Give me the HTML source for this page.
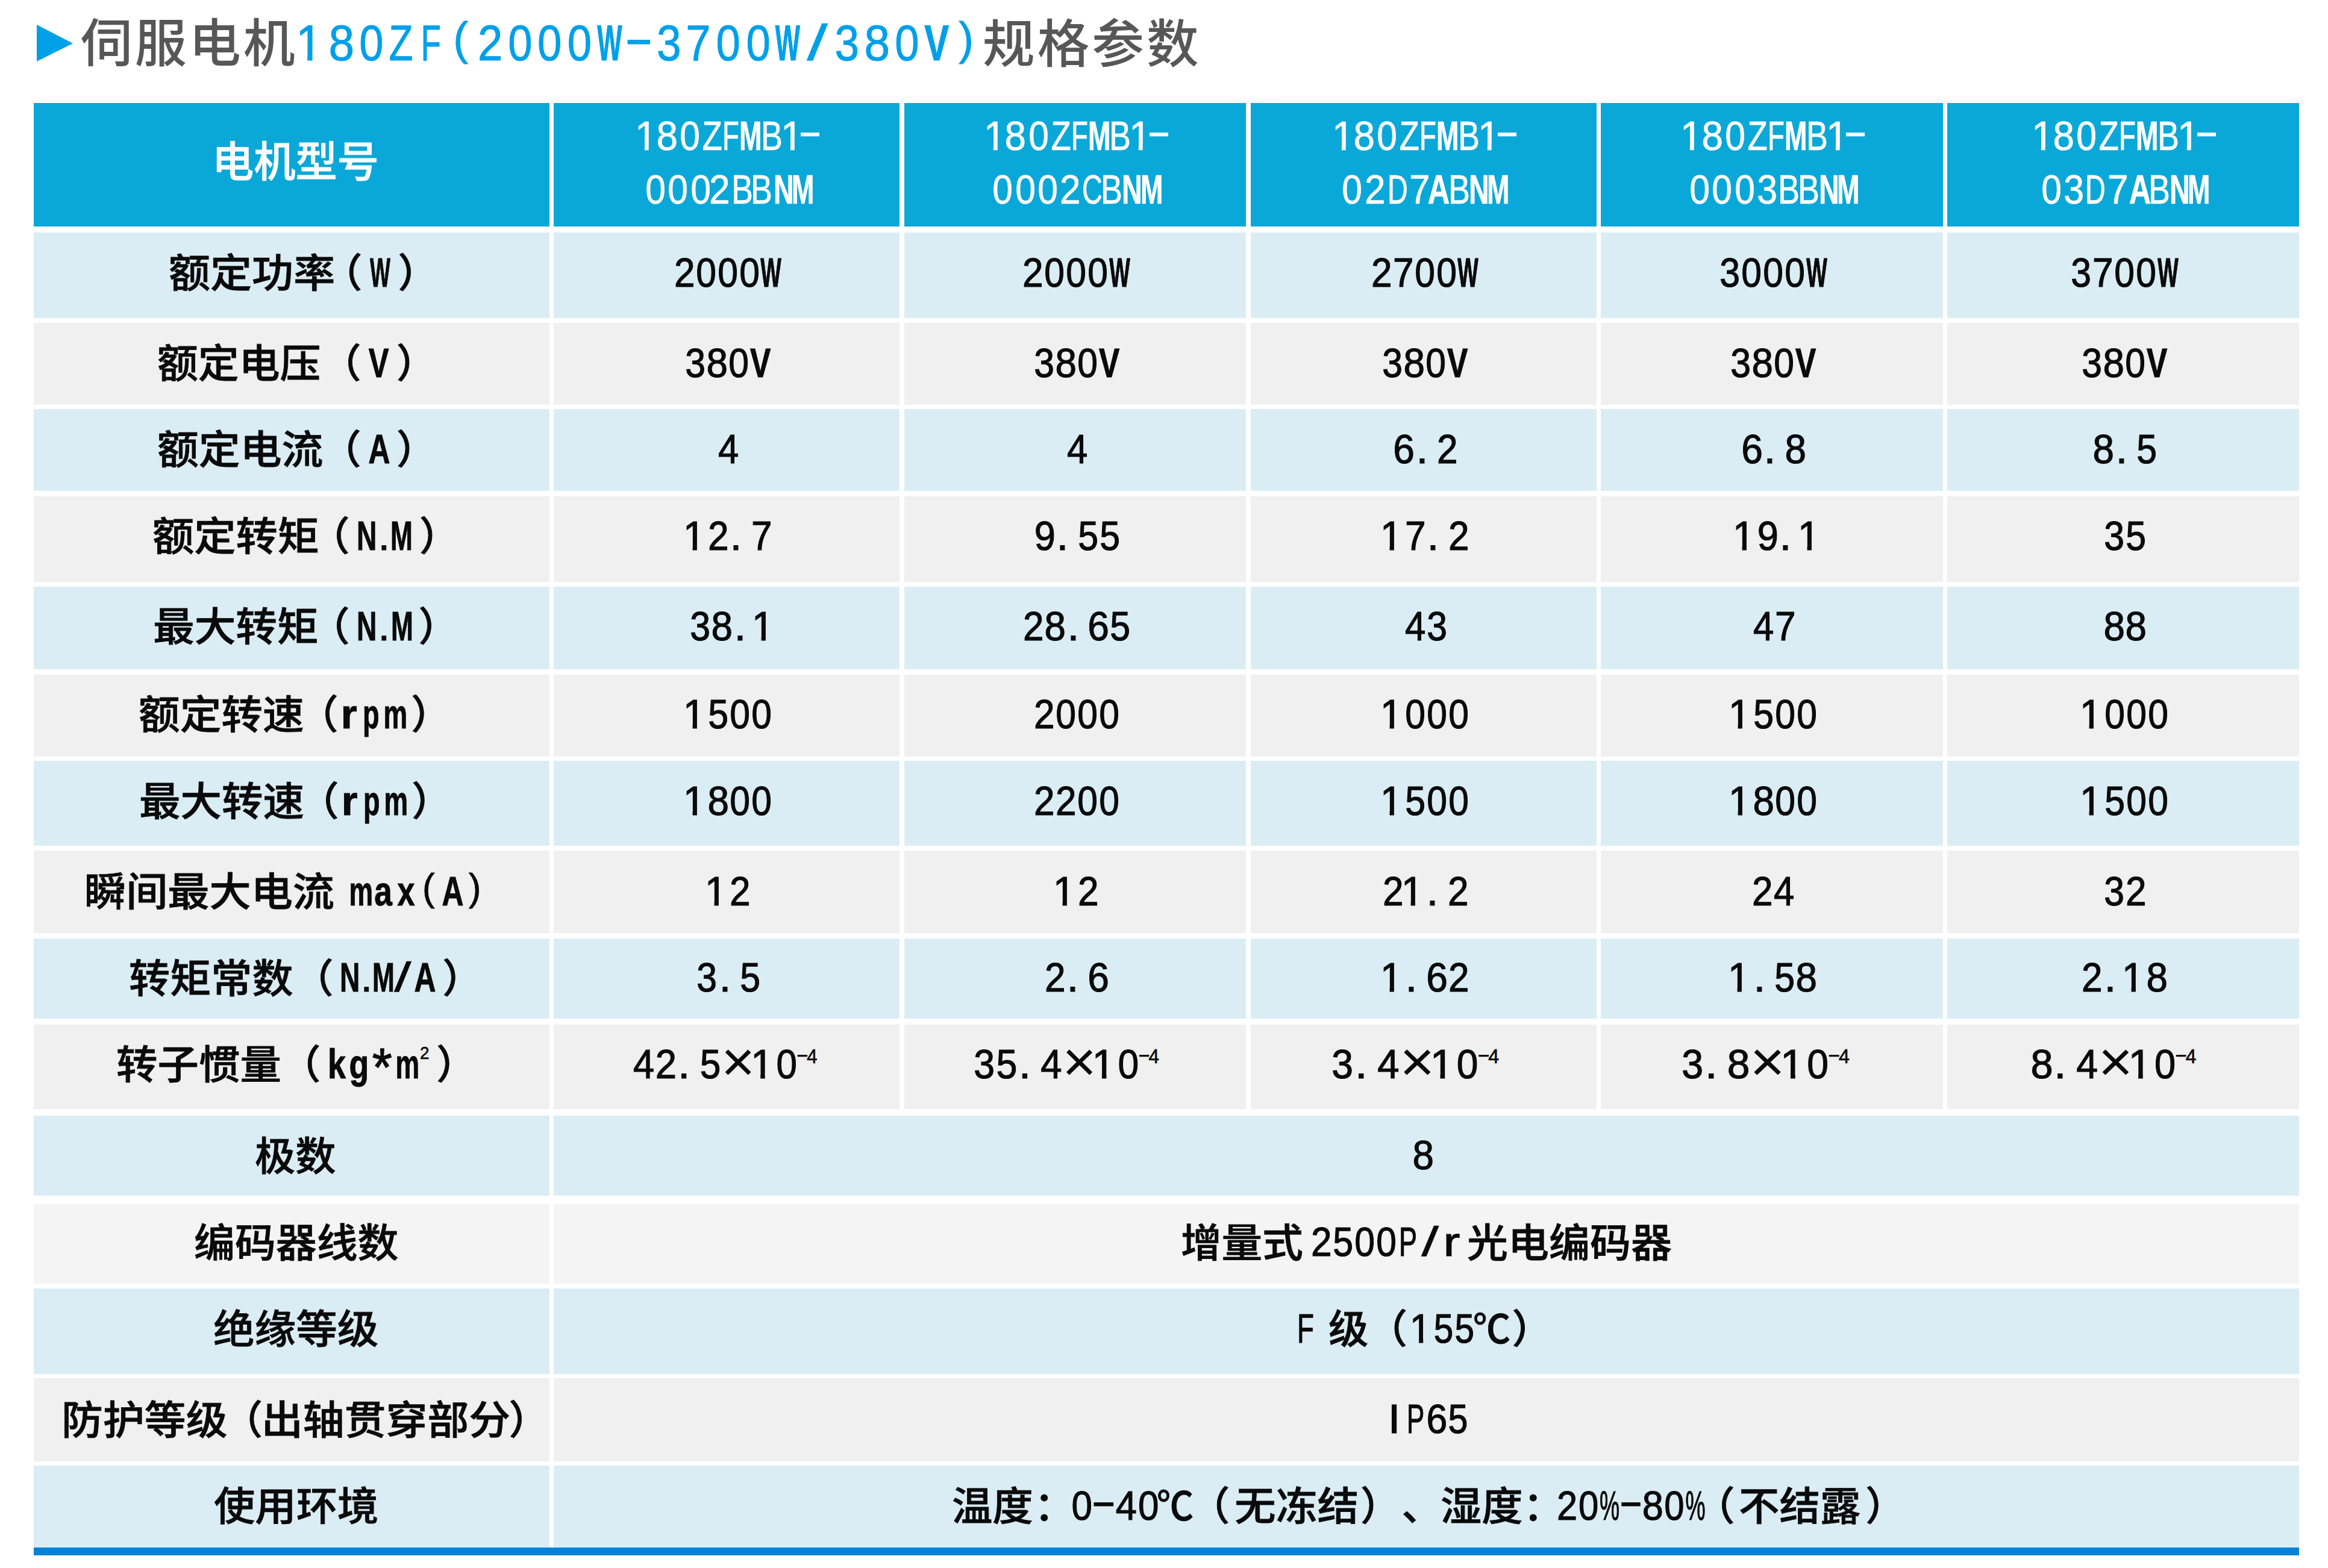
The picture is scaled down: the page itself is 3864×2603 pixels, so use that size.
<!DOCTYPE html>
<html lang="zh-CN"><head><meta charset="utf-8"><title>伺服电机180ZF规格参数</title>
<style>
html,body{margin:0;padding:0;background:#fff}
body{width:3864px;height:2603px;position:relative;overflow:hidden}
.r{position:absolute}

.t{position:absolute;white-space:nowrap;line-height:1;font-family:'Liberation Sans','Noto Sans CJK SC',sans-serif;font-weight:400;transform-origin:0 0}
.cj{font-weight:500;-webkit-text-stroke:.8px;position:relative;top:1.2px}
.tt{font-weight:500}
.g{display:inline-block;text-align:center}
.s{position:relative;top:-25px;font-size:34px}
.x{display:inline-block;width:52px;text-align:center;font-size:94px;line-height:0;position:relative;top:5px}
.dc{display:inline-block;font-weight:500;-webkit-text-stroke:.8px}

</style></head><body>
<div class="r" style="left:56px;top:171px;width:856px;height:205px;background:#0aa8d8"></div>
<div class="r" style="left:919px;top:171px;width:574px;height:205px;background:#0aa8d8"></div>
<div class="r" style="left:1501px;top:171px;width:567px;height:205px;background:#0aa8d8"></div>
<div class="r" style="left:2076px;top:171px;width:574px;height:205px;background:#0aa8d8"></div>
<div class="r" style="left:2657px;top:171px;width:568px;height:205px;background:#0aa8d8"></div>
<div class="r" style="left:3232px;top:171px;width:584px;height:205px;background:#0aa8d8"></div>
<div class="r" style="left:56px;top:386px;width:856px;height:142px;background:#dbedf4"></div>
<div class="r" style="left:919px;top:386px;width:574px;height:142px;background:#dbedf4"></div>
<div class="r" style="left:1501px;top:386px;width:567px;height:142px;background:#dbedf4"></div>
<div class="r" style="left:2076px;top:386px;width:574px;height:142px;background:#dbedf4"></div>
<div class="r" style="left:2657px;top:386px;width:568px;height:142px;background:#dbedf4"></div>
<div class="r" style="left:3232px;top:386px;width:584px;height:142px;background:#dbedf4"></div>
<div class="r" style="left:56px;top:536px;width:856px;height:136px;background:#f0f0f0"></div>
<div class="r" style="left:919px;top:536px;width:574px;height:136px;background:#f0f0f0"></div>
<div class="r" style="left:1501px;top:536px;width:567px;height:136px;background:#f0f0f0"></div>
<div class="r" style="left:2076px;top:536px;width:574px;height:136px;background:#f0f0f0"></div>
<div class="r" style="left:2657px;top:536px;width:568px;height:136px;background:#f0f0f0"></div>
<div class="r" style="left:3232px;top:536px;width:584px;height:136px;background:#f0f0f0"></div>
<div class="r" style="left:56px;top:679px;width:856px;height:136px;background:#dbedf4"></div>
<div class="r" style="left:919px;top:679px;width:574px;height:136px;background:#dbedf4"></div>
<div class="r" style="left:1501px;top:679px;width:567px;height:136px;background:#dbedf4"></div>
<div class="r" style="left:2076px;top:679px;width:574px;height:136px;background:#dbedf4"></div>
<div class="r" style="left:2657px;top:679px;width:568px;height:136px;background:#dbedf4"></div>
<div class="r" style="left:3232px;top:679px;width:584px;height:136px;background:#dbedf4"></div>
<div class="r" style="left:56px;top:824px;width:856px;height:142px;background:#f0f0f0"></div>
<div class="r" style="left:919px;top:824px;width:574px;height:142px;background:#f0f0f0"></div>
<div class="r" style="left:1501px;top:824px;width:567px;height:142px;background:#f0f0f0"></div>
<div class="r" style="left:2076px;top:824px;width:574px;height:142px;background:#f0f0f0"></div>
<div class="r" style="left:2657px;top:824px;width:568px;height:142px;background:#f0f0f0"></div>
<div class="r" style="left:3232px;top:824px;width:584px;height:142px;background:#f0f0f0"></div>
<div class="r" style="left:56px;top:974px;width:856px;height:137px;background:#dbedf4"></div>
<div class="r" style="left:919px;top:974px;width:574px;height:137px;background:#dbedf4"></div>
<div class="r" style="left:1501px;top:974px;width:567px;height:137px;background:#dbedf4"></div>
<div class="r" style="left:2076px;top:974px;width:574px;height:137px;background:#dbedf4"></div>
<div class="r" style="left:2657px;top:974px;width:568px;height:137px;background:#dbedf4"></div>
<div class="r" style="left:3232px;top:974px;width:584px;height:137px;background:#dbedf4"></div>
<div class="r" style="left:56px;top:1120px;width:856px;height:136px;background:#f0f0f0"></div>
<div class="r" style="left:919px;top:1120px;width:574px;height:136px;background:#f0f0f0"></div>
<div class="r" style="left:1501px;top:1120px;width:567px;height:136px;background:#f0f0f0"></div>
<div class="r" style="left:2076px;top:1120px;width:574px;height:136px;background:#f0f0f0"></div>
<div class="r" style="left:2657px;top:1120px;width:568px;height:136px;background:#f0f0f0"></div>
<div class="r" style="left:3232px;top:1120px;width:584px;height:136px;background:#f0f0f0"></div>
<div class="r" style="left:56px;top:1263px;width:856px;height:141px;background:#dbedf4"></div>
<div class="r" style="left:919px;top:1263px;width:574px;height:141px;background:#dbedf4"></div>
<div class="r" style="left:1501px;top:1263px;width:567px;height:141px;background:#dbedf4"></div>
<div class="r" style="left:2076px;top:1263px;width:574px;height:141px;background:#dbedf4"></div>
<div class="r" style="left:2657px;top:1263px;width:568px;height:141px;background:#dbedf4"></div>
<div class="r" style="left:3232px;top:1263px;width:584px;height:141px;background:#dbedf4"></div>
<div class="r" style="left:56px;top:1412px;width:856px;height:137px;background:#f0f0f0"></div>
<div class="r" style="left:919px;top:1412px;width:574px;height:137px;background:#f0f0f0"></div>
<div class="r" style="left:1501px;top:1412px;width:567px;height:137px;background:#f0f0f0"></div>
<div class="r" style="left:2076px;top:1412px;width:574px;height:137px;background:#f0f0f0"></div>
<div class="r" style="left:2657px;top:1412px;width:568px;height:137px;background:#f0f0f0"></div>
<div class="r" style="left:3232px;top:1412px;width:584px;height:137px;background:#f0f0f0"></div>
<div class="r" style="left:56px;top:1558px;width:856px;height:133px;background:#dbedf4"></div>
<div class="r" style="left:919px;top:1558px;width:574px;height:133px;background:#dbedf4"></div>
<div class="r" style="left:1501px;top:1558px;width:567px;height:133px;background:#dbedf4"></div>
<div class="r" style="left:2076px;top:1558px;width:574px;height:133px;background:#dbedf4"></div>
<div class="r" style="left:2657px;top:1558px;width:568px;height:133px;background:#dbedf4"></div>
<div class="r" style="left:3232px;top:1558px;width:584px;height:133px;background:#dbedf4"></div>
<div class="r" style="left:56px;top:1701px;width:856px;height:140px;background:#f0f0f0"></div>
<div class="r" style="left:919px;top:1701px;width:574px;height:140px;background:#f0f0f0"></div>
<div class="r" style="left:1501px;top:1701px;width:567px;height:140px;background:#f0f0f0"></div>
<div class="r" style="left:2076px;top:1701px;width:574px;height:140px;background:#f0f0f0"></div>
<div class="r" style="left:2657px;top:1701px;width:568px;height:140px;background:#f0f0f0"></div>
<div class="r" style="left:3232px;top:1701px;width:584px;height:140px;background:#f0f0f0"></div>
<div class="r" style="left:56px;top:1852px;width:856px;height:133px;background:#dbedf4"></div>
<div class="r" style="left:919px;top:1852px;width:2897px;height:133px;background:#dbedf4"></div>
<div class="r" style="left:56px;top:1999px;width:856px;height:132px;background:#f4f4f4"></div>
<div class="r" style="left:919px;top:1999px;width:2897px;height:132px;background:#f4f4f4"></div>
<div class="r" style="left:56px;top:2139px;width:856px;height:142px;background:#dbedf4"></div>
<div class="r" style="left:919px;top:2139px;width:2897px;height:142px;background:#dbedf4"></div>
<div class="r" style="left:56px;top:2288px;width:856px;height:138px;background:#f0f0f0"></div>
<div class="r" style="left:919px;top:2288px;width:2897px;height:138px;background:#f0f0f0"></div>
<div class="r" style="left:56px;top:2433px;width:856px;height:136px;background:#dbedf4"></div>
<div class="r" style="left:919px;top:2433px;width:2897px;height:136px;background:#dbedf4"></div>
<div class="r" style="left:56px;top:2569px;width:3760px;height:13px;background:#0282d6"></div>
<svg style="position:absolute;left:0;top:0" width="200" height="140"><polygon points="61,41 121,72 61,102" fill="#00a0e9"/></svg>
<div class="t" style="font-size:66px;color:#0a0a0a;left:279.9px;top:420.3px;transform:scaleX(1.0463);"><span class="cj">额定功率</span></div>
<div class="t" style="font-size:66px;color:#0a0a0a;left:260.5px;top:569.8px;transform:scaleX(1.0277);"><span class="cj">额定电压</span></div>
<div class="t" style="font-size:66px;color:#0a0a0a;left:260.5px;top:713.0px;transform:scaleX(1.0427);"><span class="cj">额定电流</span></div>
<div class="t" style="font-size:66px;color:#0a0a0a;left:252.9px;top:856.7px;transform:scaleX(1.0490);"><span class="cj">额定转矩</span></div>
<div class="t" style="font-size:66px;color:#0a0a0a;left:254.4px;top:1007.0px;transform:scaleX(1.0403);"><span class="cj">最大转矩</span></div>
<div class="t" style="font-size:66px;color:#0a0a0a;left:230.4px;top:1153.0px;transform:scaleX(1.0404);"><span class="cj">额定转速</span></div>
<div class="t" style="font-size:66px;color:#0a0a0a;left:231.2px;top:1296.5px;transform:scaleX(1.0375);"><span class="cj">最大转速</span></div>
<div class="t" style="font-size:66px;color:#0a0a0a;left:140.0px;top:1446.7px;transform:scaleX(1.0479);"><span class="cj">瞬间最大电流</span></div>
<div class="t" style="font-size:66px;color:#0a0a0a;left:213.9px;top:1590.4px;transform:scaleX(1.0326);"><span class="cj">转矩常数</span></div>
<div class="t" style="font-size:66px;color:#0a0a0a;left:192.9px;top:1733.5px;transform:scaleX(1.0373);"><span class="cj">转子惯量</span></div>
<div class="t" style="font-size:66px;color:#0a0a0a;left:422.6px;top:1885.8px;transform:scaleX(1.0185);"><span class="cj">极数</span></div>
<div class="t" style="font-size:66px;color:#0a0a0a;left:322.3px;top:2029.4px;transform:scaleX(1.0287);"><span class="cj">编码器线数</span></div>
<div class="t" style="font-size:66px;color:#0a0a0a;left:353.5px;top:2172.9px;transform:scaleX(1.0396);"><span class="cj">绝缘等级</span></div>
<div class="t" style="font-size:66px;color:#0a0a0a;left:102.3px;top:2323.4px;transform:scaleX(1.0440);"><span class="cj">防护等级</span></div>
<div class="t" style="font-size:66px;color:#0a0a0a;left:433.9px;top:2323.4px;transform:scaleX(1.0433);"><span class="cj">出轴贯穿部分</span></div>
<div class="t" style="font-size:66px;color:#0a0a0a;left:354.6px;top:2466.8px;transform:scaleX(1.0356);"><span class="cj">使用环境</span></div>
<div class="t" style="font-size:66px;color:#0a0a0a;left:535.2px;top:420.3px;"><span class="cj">（</span></div>
<div class="t" style="font-size:68px;color:#0a0a0a;left:611.5px;top:418.3px;"><span class="g" style="width:64.18px;margin:0 -12.09px;font-weight:700;transform:scaleX(0.529);-webkit-text-stroke:1.0px">W</span></div>
<div class="t" style="font-size:66px;color:#0a0a0a;left:660.5px;top:420.3px;"><span class="cj">）</span></div>
<div class="t" style="font-size:66px;color:#0a0a0a;left:533.4px;top:569.8px;"><span class="cj">（</span></div>
<div class="t" style="font-size:68px;color:#0a0a0a;left:608.7px;top:567.8px;"><span class="g" style="width:45.36px;margin:0 -2.68px;font-weight:700;transform:scaleX(0.743);-webkit-text-stroke:1.0px">V</span></div>
<div class="t" style="font-size:66px;color:#0a0a0a;left:658.0px;top:569.8px;"><span class="cj">）</span></div>
<div class="t" style="font-size:66px;color:#0a0a0a;left:533.4px;top:713.0px;"><span class="cj">（</span></div>
<div class="t" style="font-size:68px;color:#0a0a0a;left:609.5px;top:711.0px;"><span class="g" style="width:49.11px;margin:0 -4.55px;font-weight:700;transform:scaleX(0.732);-webkit-text-stroke:1.0px">A</span></div>
<div class="t" style="font-size:66px;color:#0a0a0a;left:658.0px;top:713.0px;"><span class="cj">）</span></div>
<div class="t" style="font-size:66px;color:#0a0a0a;left:514.5px;top:856.7px;"><span class="cj">（</span></div>
<div class="t" style="font-size:68px;color:#0a0a0a;left:588.4px;top:854.7px;"><span class="g" style="width:49.11px;margin:0 -4.55px;font-weight:700;transform:scaleX(0.678);-webkit-text-stroke:1.0px">N</span></div>
<div class="t" style="font-size:68px;color:#0a0a0a;left:623.8px;top:854.7px;"><span class="g" style="width:18.89px;margin:0 10.55px;transform:translateX(-6.1px) scaleX(1.035);-webkit-text-stroke:1.0px">.</span></div>
<div class="t" style="font-size:68px;color:#0a0a0a;left:646.4px;top:854.7px;"><span class="g" style="width:56.64px;margin:0 -8.32px;font-weight:700;transform:scaleX(0.651);-webkit-text-stroke:1.0px">M</span></div>
<div class="t" style="font-size:66px;color:#0a0a0a;left:696.0px;top:856.7px;"><span class="cj">）</span></div>
<div class="t" style="font-size:66px;color:#0a0a0a;left:514.5px;top:1007.0px;"><span class="cj">（</span></div>
<div class="t" style="font-size:68px;color:#0a0a0a;left:588.5px;top:1005.0px;"><span class="g" style="width:49.11px;margin:0 -4.55px;font-weight:700;transform:scaleX(0.678);-webkit-text-stroke:1.0px">N</span></div>
<div class="t" style="font-size:68px;color:#0a0a0a;left:623.2px;top:1005.0px;"><span class="g" style="width:18.89px;margin:0 10.55px;transform:translateX(-6.1px) scaleX(1.035);-webkit-text-stroke:1.0px">.</span></div>
<div class="t" style="font-size:68px;color:#0a0a0a;left:646.9px;top:1005.0px;"><span class="g" style="width:56.64px;margin:0 -8.32px;font-weight:700;transform:scaleX(0.651);-webkit-text-stroke:1.0px">M</span></div>
<div class="t" style="font-size:66px;color:#0a0a0a;left:694.5px;top:1007.0px;"><span class="cj">）</span></div>
<div class="t" style="font-size:66px;color:#0a0a0a;left:495.5px;top:1153.0px;"><span class="cj">（</span></div>
<div class="t" style="font-size:68px;color:#0a0a0a;left:559.0px;top:1151.0px;"><span class="g" style="width:26.46px;margin:0 6.77px;font-weight:700;transform:scaleX(1.012);-webkit-text-stroke:1.0px">r</span></div>
<div class="t" style="font-size:68px;color:#0a0a0a;left:595.3px;top:1151.0px;"><span class="g" style="width:41.54px;margin:0 -0.77px;font-weight:700;transform:scaleX(0.662);-webkit-text-stroke:1.0px">p</span></div>
<div class="t" style="font-size:68px;color:#0a0a0a;left:636.3px;top:1151.0px;"><span class="g" style="width:60.46px;margin:0 -10.23px;font-weight:700;transform:scaleX(0.654);-webkit-text-stroke:1.0px">m</span></div>
<div class="t" style="font-size:66px;color:#0a0a0a;left:682.3px;top:1153.0px;"><span class="cj">）</span></div>
<div class="t" style="font-size:66px;color:#0a0a0a;left:496.5px;top:1296.5px;"><span class="cj">（</span></div>
<div class="t" style="font-size:68px;color:#0a0a0a;left:560.0px;top:1294.5px;"><span class="g" style="width:26.46px;margin:0 6.77px;font-weight:700;transform:scaleX(1.012);-webkit-text-stroke:1.0px">r</span></div>
<div class="t" style="font-size:68px;color:#0a0a0a;left:596.3px;top:1294.5px;"><span class="g" style="width:41.54px;margin:0 -0.77px;font-weight:700;transform:scaleX(0.662);-webkit-text-stroke:1.0px">p</span></div>
<div class="t" style="font-size:68px;color:#0a0a0a;left:637.3px;top:1294.5px;"><span class="g" style="width:60.46px;margin:0 -10.23px;font-weight:700;transform:scaleX(0.654);-webkit-text-stroke:1.0px">m</span></div>
<div class="t" style="font-size:66px;color:#0a0a0a;left:683.3px;top:1296.5px;"><span class="cj">）</span></div>
<div class="t" style="font-size:68px;color:#0a0a0a;left:578.8px;top:1444.7px;"><span class="g" style="width:60.46px;margin:0 -10.23px;font-weight:700;transform:scaleX(0.654);-webkit-text-stroke:1.0px">m</span></div>
<div class="t" style="font-size:68px;color:#0a0a0a;left:616.0px;top:1444.7px;"><span class="g" style="width:37.82px;margin:0 1.09px;font-weight:700;transform:scaleX(0.781);-webkit-text-stroke:1.0px">a</span></div>
<div class="t" style="font-size:68px;color:#0a0a0a;left:654.2px;top:1444.7px;"><span class="g" style="width:37.82px;margin:0 1.09px;font-weight:700;transform:scaleX(0.767);-webkit-text-stroke:1.0px">x</span></div>
<div class="t" style="font-size:68px;color:#0a0a0a;left:691.5px;top:1444.7px;"><span class="g" style="width:22.64px;margin:0 8.68px;transform:translateY(-6.5px) scale(0.902,0.925);-webkit-text-stroke:1.0px">(</span></div>
<div class="t" style="font-size:68px;color:#0a0a0a;left:731.5px;top:1444.7px;"><span class="g" style="width:49.11px;margin:0 -4.55px;font-weight:700;transform:scaleX(0.732);-webkit-text-stroke:1.0px">A</span></div>
<div class="t" style="font-size:68px;color:#0a0a0a;left:768.8px;top:1444.7px;"><span class="g" style="width:22.64px;margin:0 8.68px;transform:translateY(-6.5px) scale(0.902,0.925);-webkit-text-stroke:1.0px">)</span></div>
<div class="t" style="font-size:66px;color:#0a0a0a;left:487.5px;top:1590.4px;"><span class="cj">（</span></div>
<div class="t" style="font-size:68px;color:#0a0a0a;left:561.0px;top:1588.4px;"><span class="g" style="width:49.11px;margin:0 -4.55px;font-weight:700;transform:scaleX(0.678);-webkit-text-stroke:1.0px">N</span></div>
<div class="t" style="font-size:68px;color:#0a0a0a;left:594.6px;top:1588.4px;"><span class="g" style="width:18.89px;margin:0 10.55px;transform:translateX(-6.1px) scaleX(1.035);-webkit-text-stroke:1.0px">.</span></div>
<div class="t" style="font-size:68px;color:#0a0a0a;left:616.0px;top:1588.4px;"><span class="g" style="width:56.64px;margin:0 -8.32px;font-weight:700;transform:scaleX(0.651);-webkit-text-stroke:1.0px">M</span></div>
<div class="t" style="font-size:68px;color:#0a0a0a;left:648.3px;top:1588.4px;"><span class="g" style="width:18.89px;margin:0 10.55px;transform:scaleX(1.528);-webkit-text-stroke:0.3px">/</span></div>
<div class="t" style="font-size:68px;color:#0a0a0a;left:685.4px;top:1588.4px;"><span class="g" style="width:49.11px;margin:0 -4.55px;font-weight:700;transform:scaleX(0.732);-webkit-text-stroke:1.0px">A</span></div>
<div class="t" style="font-size:66px;color:#0a0a0a;left:734.3px;top:1590.4px;"><span class="cj">）</span></div>
<div class="t" style="font-size:66px;color:#0a0a0a;left:466.2px;top:1733.5px;"><span class="cj">（</span></div>
<div class="t" style="font-size:68px;color:#0a0a0a;left:538.5px;top:1731.5px;"><span class="g" style="width:37.82px;margin:0 1.09px;font-weight:700;transform:scaleX(0.791);-webkit-text-stroke:1.0px">k</span></div>
<div class="t" style="font-size:68px;color:#0a0a0a;left:575.7px;top:1731.5px;"><span class="g" style="width:41.54px;margin:0 -0.77px;font-weight:700;transform:scaleX(0.787);-webkit-text-stroke:1.0px">g</span></div>
<div class="t" style="font-size:68px;color:#0a0a0a;left:614.5px;top:1731.5px;"><span class="g" style="width:26.46px;margin:0 6.77px;transform:translateY(4.8px) scale(1.25,1.3);-webkit-text-stroke:1.0px">*</span></div>
<div class="t" style="font-size:68px;color:#0a0a0a;left:656.3px;top:1731.5px;"><span class="g" style="width:60.46px;margin:0 -10.23px;font-weight:700;transform:scaleX(0.654);-webkit-text-stroke:1.0px">m</span></div>
<div class="t" style="font-size:66px;color:#0a0a0a;left:724.3px;top:1733.5px;"><span class="cj">）</span></div>
<div class="t" style="font-size:66px;color:#0a0a0a;left:370.1px;top:2323.4px;"><span class="cj">（</span></div>
<div class="t" style="font-size:66px;color:#0a0a0a;left:844.5px;top:2323.4px;"><span class="cj">）</span></div>
<div class="t" style="font-size:30px;color:#0a0a0a;left:693.5px;top:1733.2px;transform:scaleX(1.0308);"><span class="g" style="width:16.68px;margin:0 1.66px;transform:scaleX(0.900);-webkit-text-stroke:0.6px">2</span></div>
<div class="t" style="font-size:69px;color:#0a0a0a;left:1118.0px;top:418.3px;"><span class="g" style="width:38.37px;margin:0 -1.19px;transform:scaleX(0.900);-webkit-text-stroke:1.2px">2</span><span class="g" style="width:38.37px;margin:0 -1.19px;transform:scaleX(0.877);-webkit-text-stroke:1.2px">0</span><span class="g" style="width:38.37px;margin:0 -1.19px;transform:scaleX(0.877);-webkit-text-stroke:1.2px">0</span><span class="g" style="width:38.37px;margin:0 -1.19px;transform:scaleX(0.877);-webkit-text-stroke:1.2px">0</span><span class="g" style="width:65.13px;margin:0 -14.56px;font-weight:700;transform:scaleX(0.529);-webkit-text-stroke:1.2px">W</span></div>
<div class="t" style="font-size:69px;color:#0a0a0a;left:1696.5px;top:418.3px;"><span class="g" style="width:38.37px;margin:0 -1.19px;transform:scaleX(0.900);-webkit-text-stroke:1.2px">2</span><span class="g" style="width:38.37px;margin:0 -1.19px;transform:scaleX(0.877);-webkit-text-stroke:1.2px">0</span><span class="g" style="width:38.37px;margin:0 -1.19px;transform:scaleX(0.877);-webkit-text-stroke:1.2px">0</span><span class="g" style="width:38.37px;margin:0 -1.19px;transform:scaleX(0.877);-webkit-text-stroke:1.2px">0</span><span class="g" style="width:65.13px;margin:0 -14.56px;font-weight:700;transform:scaleX(0.529);-webkit-text-stroke:1.2px">W</span></div>
<div class="t" style="font-size:69px;color:#0a0a0a;left:2275.0px;top:418.3px;"><span class="g" style="width:38.37px;margin:0 -1.19px;transform:scaleX(0.900);-webkit-text-stroke:1.2px">2</span><span class="g" style="width:38.37px;margin:0 -1.19px;transform:scaleX(0.900);-webkit-text-stroke:1.2px">7</span><span class="g" style="width:38.37px;margin:0 -1.19px;transform:scaleX(0.877);-webkit-text-stroke:1.2px">0</span><span class="g" style="width:38.37px;margin:0 -1.19px;transform:scaleX(0.877);-webkit-text-stroke:1.2px">0</span><span class="g" style="width:65.13px;margin:0 -14.56px;font-weight:700;transform:scaleX(0.529);-webkit-text-stroke:1.2px">W</span></div>
<div class="t" style="font-size:69px;color:#0a0a0a;left:2853.5px;top:418.3px;"><span class="g" style="width:38.37px;margin:0 -1.19px;transform:scaleX(0.881);-webkit-text-stroke:1.2px">3</span><span class="g" style="width:38.37px;margin:0 -1.19px;transform:scaleX(0.877);-webkit-text-stroke:1.2px">0</span><span class="g" style="width:38.37px;margin:0 -1.19px;transform:scaleX(0.877);-webkit-text-stroke:1.2px">0</span><span class="g" style="width:38.37px;margin:0 -1.19px;transform:scaleX(0.877);-webkit-text-stroke:1.2px">0</span><span class="g" style="width:65.13px;margin:0 -14.56px;font-weight:700;transform:scaleX(0.529);-webkit-text-stroke:1.2px">W</span></div>
<div class="t" style="font-size:69px;color:#0a0a0a;left:3436.5px;top:418.3px;"><span class="g" style="width:38.37px;margin:0 -1.19px;transform:scaleX(0.881);-webkit-text-stroke:1.2px">3</span><span class="g" style="width:38.37px;margin:0 -1.19px;transform:scaleX(0.900);-webkit-text-stroke:1.2px">7</span><span class="g" style="width:38.37px;margin:0 -1.19px;transform:scaleX(0.877);-webkit-text-stroke:1.2px">0</span><span class="g" style="width:38.37px;margin:0 -1.19px;transform:scaleX(0.877);-webkit-text-stroke:1.2px">0</span><span class="g" style="width:65.13px;margin:0 -14.56px;font-weight:700;transform:scaleX(0.529);-webkit-text-stroke:1.2px">W</span></div>
<div class="t" style="font-size:69px;color:#0a0a0a;left:1136.5px;top:567.8px;"><span class="g" style="width:38.37px;margin:0 -1.19px;transform:scaleX(0.881);-webkit-text-stroke:1.2px">3</span><span class="g" style="width:38.37px;margin:0 -1.19px;transform:scaleX(0.925);-webkit-text-stroke:1.2px">8</span><span class="g" style="width:38.37px;margin:0 -1.19px;transform:scaleX(0.877);-webkit-text-stroke:1.2px">0</span><span class="g" style="width:46.02px;margin:0 -5.01px;font-weight:700;transform:scaleX(0.743);-webkit-text-stroke:1.2px">V</span></div>
<div class="t" style="font-size:69px;color:#0a0a0a;left:1715.0px;top:567.8px;"><span class="g" style="width:38.37px;margin:0 -1.19px;transform:scaleX(0.881);-webkit-text-stroke:1.2px">3</span><span class="g" style="width:38.37px;margin:0 -1.19px;transform:scaleX(0.925);-webkit-text-stroke:1.2px">8</span><span class="g" style="width:38.37px;margin:0 -1.19px;transform:scaleX(0.877);-webkit-text-stroke:1.2px">0</span><span class="g" style="width:46.02px;margin:0 -5.01px;font-weight:700;transform:scaleX(0.743);-webkit-text-stroke:1.2px">V</span></div>
<div class="t" style="font-size:69px;color:#0a0a0a;left:2293.5px;top:567.8px;"><span class="g" style="width:38.37px;margin:0 -1.19px;transform:scaleX(0.881);-webkit-text-stroke:1.2px">3</span><span class="g" style="width:38.37px;margin:0 -1.19px;transform:scaleX(0.925);-webkit-text-stroke:1.2px">8</span><span class="g" style="width:38.37px;margin:0 -1.19px;transform:scaleX(0.877);-webkit-text-stroke:1.2px">0</span><span class="g" style="width:46.02px;margin:0 -5.01px;font-weight:700;transform:scaleX(0.743);-webkit-text-stroke:1.2px">V</span></div>
<div class="t" style="font-size:69px;color:#0a0a0a;left:2871.5px;top:567.8px;"><span class="g" style="width:38.37px;margin:0 -1.19px;transform:scaleX(0.881);-webkit-text-stroke:1.2px">3</span><span class="g" style="width:38.37px;margin:0 -1.19px;transform:scaleX(0.925);-webkit-text-stroke:1.2px">8</span><span class="g" style="width:38.37px;margin:0 -1.19px;transform:scaleX(0.877);-webkit-text-stroke:1.2px">0</span><span class="g" style="width:46.02px;margin:0 -5.01px;font-weight:700;transform:scaleX(0.743);-webkit-text-stroke:1.2px">V</span></div>
<div class="t" style="font-size:69px;color:#0a0a0a;left:3454.5px;top:567.8px;"><span class="g" style="width:38.37px;margin:0 -1.19px;transform:scaleX(0.881);-webkit-text-stroke:1.2px">3</span><span class="g" style="width:38.37px;margin:0 -1.19px;transform:scaleX(0.925);-webkit-text-stroke:1.2px">8</span><span class="g" style="width:38.37px;margin:0 -1.19px;transform:scaleX(0.877);-webkit-text-stroke:1.2px">0</span><span class="g" style="width:46.02px;margin:0 -5.01px;font-weight:700;transform:scaleX(0.743);-webkit-text-stroke:1.2px">V</span></div>
<div class="t" style="font-size:69px;color:#0a0a0a;left:1191.5px;top:711.0px;"><span class="g" style="width:38.37px;margin:0 -1.19px;transform:scaleX(0.893);-webkit-text-stroke:1.2px">4</span></div>
<div class="t" style="font-size:69px;color:#0a0a0a;left:1770.0px;top:711.0px;"><span class="g" style="width:38.37px;margin:0 -1.19px;transform:scaleX(0.893);-webkit-text-stroke:1.2px">4</span></div>
<div class="t" style="font-size:69px;color:#0a0a0a;left:2312.5px;top:711.0px;"><span class="g" style="width:38.37px;margin:0 -1.19px;transform:scaleX(0.930);-webkit-text-stroke:1.2px">6</span><span class="g" style="width:19.17px;margin:0 8.41px;transform:translateX(-6.2px) scaleX(1.035);-webkit-text-stroke:1.2px">.</span><span class="g" style="width:38.37px;margin:0 -1.19px;transform:scaleX(0.900);-webkit-text-stroke:1.2px">2</span></div>
<div class="t" style="font-size:69px;color:#0a0a0a;left:2890.0px;top:711.0px;"><span class="g" style="width:38.37px;margin:0 -1.19px;transform:scaleX(0.930);-webkit-text-stroke:1.2px">6</span><span class="g" style="width:19.17px;margin:0 8.41px;transform:translateX(-6.2px) scaleX(1.035);-webkit-text-stroke:1.2px">.</span><span class="g" style="width:38.37px;margin:0 -1.19px;transform:scaleX(0.925);-webkit-text-stroke:1.2px">8</span></div>
<div class="t" style="font-size:69px;color:#0a0a0a;left:3473.5px;top:711.0px;"><span class="g" style="width:38.37px;margin:0 -1.19px;transform:scaleX(0.925);-webkit-text-stroke:1.2px">8</span><span class="g" style="width:19.17px;margin:0 8.41px;transform:translateX(-6.2px) scaleX(1.035);-webkit-text-stroke:1.2px">.</span><span class="g" style="width:38.37px;margin:0 -1.19px;transform:scaleX(0.881);-webkit-text-stroke:1.2px">5</span></div>
<div class="t" style="font-size:69px;color:#0a0a0a;left:1138.0px;top:854.7px;"><span class="g" style="width:38.37px;margin:0 -1.19px;transform:translateX(-4.1px) scaleX(0.961);-webkit-text-stroke:1.2px;clip-path:polygon(-30px -60px,68.4px -60px,68.4px 51.1px,24.2px 51.1px,24.2px 129px,16.6px 129px,16.6px 51.1px,-30px 51.1px)">1</span><span class="g" style="width:38.37px;margin:0 -1.19px;transform:scaleX(0.900);-webkit-text-stroke:1.2px">2</span><span class="g" style="width:19.17px;margin:0 8.41px;transform:translateX(-6.2px) scaleX(1.035);-webkit-text-stroke:1.2px">.</span><span class="g" style="width:38.37px;margin:0 -1.19px;transform:scaleX(0.900);-webkit-text-stroke:1.2px">7</span></div>
<div class="t" style="font-size:69px;color:#0a0a0a;left:1716.0px;top:854.7px;"><span class="g" style="width:38.37px;margin:0 -1.19px;transform:scaleX(0.915);-webkit-text-stroke:1.2px">9</span><span class="g" style="width:19.17px;margin:0 8.41px;transform:translateX(-6.2px) scaleX(1.035);-webkit-text-stroke:1.2px">.</span><span class="g" style="width:38.37px;margin:0 -1.19px;transform:scaleX(0.881);-webkit-text-stroke:1.2px">5</span><span class="g" style="width:38.37px;margin:0 -1.19px;transform:scaleX(0.881);-webkit-text-stroke:1.2px">5</span></div>
<div class="t" style="font-size:69px;color:#0a0a0a;left:2295.0px;top:854.7px;"><span class="g" style="width:38.37px;margin:0 -1.19px;transform:translateX(-4.1px) scaleX(0.961);-webkit-text-stroke:1.2px;clip-path:polygon(-30px -60px,68.4px -60px,68.4px 51.1px,24.2px 51.1px,24.2px 129px,16.6px 129px,16.6px 51.1px,-30px 51.1px)">1</span><span class="g" style="width:38.37px;margin:0 -1.19px;transform:scaleX(0.900);-webkit-text-stroke:1.2px">7</span><span class="g" style="width:19.17px;margin:0 8.41px;transform:translateX(-6.2px) scaleX(1.035);-webkit-text-stroke:1.2px">.</span><span class="g" style="width:38.37px;margin:0 -1.19px;transform:scaleX(0.900);-webkit-text-stroke:1.2px">2</span></div>
<div class="t" style="font-size:69px;color:#0a0a0a;left:2880.0px;top:854.7px;"><span class="g" style="width:38.37px;margin:0 -1.19px;transform:translateX(-4.1px) scaleX(0.961);-webkit-text-stroke:1.2px;clip-path:polygon(-30px -60px,68.4px -60px,68.4px 51.1px,24.2px 51.1px,24.2px 129px,16.6px 129px,16.6px 51.1px,-30px 51.1px)">1</span><span class="g" style="width:38.37px;margin:0 -1.19px;transform:scaleX(0.915);-webkit-text-stroke:1.2px">9</span><span class="g" style="width:19.17px;margin:0 8.41px;transform:translateX(-6.2px) scaleX(1.035);-webkit-text-stroke:1.2px">.</span><span class="g" style="width:38.37px;margin:0 -1.19px;transform:translateX(-4.1px) scaleX(0.961);-webkit-text-stroke:1.2px;clip-path:polygon(-30px -60px,68.4px -60px,68.4px 51.1px,24.2px 51.1px,24.2px 129px,16.6px 129px,16.6px 51.1px,-30px 51.1px)">1</span></div>
<div class="t" style="font-size:69px;color:#0a0a0a;left:3491.5px;top:854.7px;"><span class="g" style="width:38.37px;margin:0 -1.19px;transform:scaleX(0.881);-webkit-text-stroke:1.2px">3</span><span class="g" style="width:38.37px;margin:0 -1.19px;transform:scaleX(0.881);-webkit-text-stroke:1.2px">5</span></div>
<div class="t" style="font-size:69px;color:#0a0a0a;left:1144.5px;top:1005.0px;"><span class="g" style="width:38.37px;margin:0 -1.19px;transform:scaleX(0.881);-webkit-text-stroke:1.2px">3</span><span class="g" style="width:38.37px;margin:0 -1.19px;transform:scaleX(0.925);-webkit-text-stroke:1.2px">8</span><span class="g" style="width:19.17px;margin:0 8.41px;transform:translateX(-6.2px) scaleX(1.035);-webkit-text-stroke:1.2px">.</span><span class="g" style="width:38.37px;margin:0 -1.19px;transform:translateX(-4.1px) scaleX(0.961);-webkit-text-stroke:1.2px;clip-path:polygon(-30px -60px,68.4px -60px,68.4px 51.1px,24.2px 51.1px,24.2px 129px,16.6px 129px,16.6px 51.1px,-30px 51.1px)">1</span></div>
<div class="t" style="font-size:69px;color:#0a0a0a;left:1697.5px;top:1005.0px;"><span class="g" style="width:38.37px;margin:0 -1.19px;transform:scaleX(0.900);-webkit-text-stroke:1.2px">2</span><span class="g" style="width:38.37px;margin:0 -1.19px;transform:scaleX(0.925);-webkit-text-stroke:1.2px">8</span><span class="g" style="width:19.17px;margin:0 8.41px;transform:translateX(-6.2px) scaleX(1.035);-webkit-text-stroke:1.2px">.</span><span class="g" style="width:38.37px;margin:0 -1.19px;transform:scaleX(0.930);-webkit-text-stroke:1.2px">6</span><span class="g" style="width:38.37px;margin:0 -1.19px;transform:scaleX(0.881);-webkit-text-stroke:1.2px">5</span></div>
<div class="t" style="font-size:69px;color:#0a0a0a;left:2331.0px;top:1005.0px;"><span class="g" style="width:38.37px;margin:0 -1.19px;transform:scaleX(0.893);-webkit-text-stroke:1.2px">4</span><span class="g" style="width:38.37px;margin:0 -1.19px;transform:scaleX(0.881);-webkit-text-stroke:1.2px">3</span></div>
<div class="t" style="font-size:69px;color:#0a0a0a;left:2909.0px;top:1005.0px;"><span class="g" style="width:38.37px;margin:0 -1.19px;transform:scaleX(0.893);-webkit-text-stroke:1.2px">4</span><span class="g" style="width:38.37px;margin:0 -1.19px;transform:scaleX(0.900);-webkit-text-stroke:1.2px">7</span></div>
<div class="t" style="font-size:69px;color:#0a0a0a;left:3491.0px;top:1005.0px;"><span class="g" style="width:38.37px;margin:0 -1.19px;transform:scaleX(0.925);-webkit-text-stroke:1.2px">8</span><span class="g" style="width:38.37px;margin:0 -1.19px;transform:scaleX(0.925);-webkit-text-stroke:1.2px">8</span></div>
<div class="t" style="font-size:69px;color:#0a0a0a;left:1138.0px;top:1151.0px;"><span class="g" style="width:38.37px;margin:0 -1.19px;transform:translateX(-4.1px) scaleX(0.961);-webkit-text-stroke:1.2px;clip-path:polygon(-30px -60px,68.4px -60px,68.4px 51.1px,24.2px 51.1px,24.2px 129px,16.6px 129px,16.6px 51.1px,-30px 51.1px)">1</span><span class="g" style="width:38.37px;margin:0 -1.19px;transform:scaleX(0.881);-webkit-text-stroke:1.2px">5</span><span class="g" style="width:38.37px;margin:0 -1.19px;transform:scaleX(0.877);-webkit-text-stroke:1.2px">0</span><span class="g" style="width:38.37px;margin:0 -1.19px;transform:scaleX(0.877);-webkit-text-stroke:1.2px">0</span></div>
<div class="t" style="font-size:69px;color:#0a0a0a;left:1715.5px;top:1151.0px;"><span class="g" style="width:38.37px;margin:0 -1.19px;transform:scaleX(0.900);-webkit-text-stroke:1.2px">2</span><span class="g" style="width:38.37px;margin:0 -1.19px;transform:scaleX(0.877);-webkit-text-stroke:1.2px">0</span><span class="g" style="width:38.37px;margin:0 -1.19px;transform:scaleX(0.877);-webkit-text-stroke:1.2px">0</span><span class="g" style="width:38.37px;margin:0 -1.19px;transform:scaleX(0.877);-webkit-text-stroke:1.2px">0</span></div>
<div class="t" style="font-size:69px;color:#0a0a0a;left:2295.0px;top:1151.0px;"><span class="g" style="width:38.37px;margin:0 -1.19px;transform:translateX(-4.1px) scaleX(0.961);-webkit-text-stroke:1.2px;clip-path:polygon(-30px -60px,68.4px -60px,68.4px 51.1px,24.2px 51.1px,24.2px 129px,16.6px 129px,16.6px 51.1px,-30px 51.1px)">1</span><span class="g" style="width:38.37px;margin:0 -1.19px;transform:scaleX(0.877);-webkit-text-stroke:1.2px">0</span><span class="g" style="width:38.37px;margin:0 -1.19px;transform:scaleX(0.877);-webkit-text-stroke:1.2px">0</span><span class="g" style="width:38.37px;margin:0 -1.19px;transform:scaleX(0.877);-webkit-text-stroke:1.2px">0</span></div>
<div class="t" style="font-size:69px;color:#0a0a0a;left:2873.0px;top:1151.0px;"><span class="g" style="width:38.37px;margin:0 -1.19px;transform:translateX(-4.1px) scaleX(0.961);-webkit-text-stroke:1.2px;clip-path:polygon(-30px -60px,68.4px -60px,68.4px 51.1px,24.2px 51.1px,24.2px 129px,16.6px 129px,16.6px 51.1px,-30px 51.1px)">1</span><span class="g" style="width:38.37px;margin:0 -1.19px;transform:scaleX(0.881);-webkit-text-stroke:1.2px">5</span><span class="g" style="width:38.37px;margin:0 -1.19px;transform:scaleX(0.877);-webkit-text-stroke:1.2px">0</span><span class="g" style="width:38.37px;margin:0 -1.19px;transform:scaleX(0.877);-webkit-text-stroke:1.2px">0</span></div>
<div class="t" style="font-size:69px;color:#0a0a0a;left:3456.0px;top:1151.0px;"><span class="g" style="width:38.37px;margin:0 -1.19px;transform:translateX(-4.1px) scaleX(0.961);-webkit-text-stroke:1.2px;clip-path:polygon(-30px -60px,68.4px -60px,68.4px 51.1px,24.2px 51.1px,24.2px 129px,16.6px 129px,16.6px 51.1px,-30px 51.1px)">1</span><span class="g" style="width:38.37px;margin:0 -1.19px;transform:scaleX(0.877);-webkit-text-stroke:1.2px">0</span><span class="g" style="width:38.37px;margin:0 -1.19px;transform:scaleX(0.877);-webkit-text-stroke:1.2px">0</span><span class="g" style="width:38.37px;margin:0 -1.19px;transform:scaleX(0.877);-webkit-text-stroke:1.2px">0</span></div>
<div class="t" style="font-size:69px;color:#0a0a0a;left:1138.0px;top:1294.5px;"><span class="g" style="width:38.37px;margin:0 -1.19px;transform:translateX(-4.1px) scaleX(0.961);-webkit-text-stroke:1.2px;clip-path:polygon(-30px -60px,68.4px -60px,68.4px 51.1px,24.2px 51.1px,24.2px 129px,16.6px 129px,16.6px 51.1px,-30px 51.1px)">1</span><span class="g" style="width:38.37px;margin:0 -1.19px;transform:scaleX(0.925);-webkit-text-stroke:1.2px">8</span><span class="g" style="width:38.37px;margin:0 -1.19px;transform:scaleX(0.877);-webkit-text-stroke:1.2px">0</span><span class="g" style="width:38.37px;margin:0 -1.19px;transform:scaleX(0.877);-webkit-text-stroke:1.2px">0</span></div>
<div class="t" style="font-size:69px;color:#0a0a0a;left:1715.5px;top:1294.5px;"><span class="g" style="width:38.37px;margin:0 -1.19px;transform:scaleX(0.900);-webkit-text-stroke:1.2px">2</span><span class="g" style="width:38.37px;margin:0 -1.19px;transform:scaleX(0.900);-webkit-text-stroke:1.2px">2</span><span class="g" style="width:38.37px;margin:0 -1.19px;transform:scaleX(0.877);-webkit-text-stroke:1.2px">0</span><span class="g" style="width:38.37px;margin:0 -1.19px;transform:scaleX(0.877);-webkit-text-stroke:1.2px">0</span></div>
<div class="t" style="font-size:69px;color:#0a0a0a;left:2295.0px;top:1294.5px;"><span class="g" style="width:38.37px;margin:0 -1.19px;transform:translateX(-4.1px) scaleX(0.961);-webkit-text-stroke:1.2px;clip-path:polygon(-30px -60px,68.4px -60px,68.4px 51.1px,24.2px 51.1px,24.2px 129px,16.6px 129px,16.6px 51.1px,-30px 51.1px)">1</span><span class="g" style="width:38.37px;margin:0 -1.19px;transform:scaleX(0.881);-webkit-text-stroke:1.2px">5</span><span class="g" style="width:38.37px;margin:0 -1.19px;transform:scaleX(0.877);-webkit-text-stroke:1.2px">0</span><span class="g" style="width:38.37px;margin:0 -1.19px;transform:scaleX(0.877);-webkit-text-stroke:1.2px">0</span></div>
<div class="t" style="font-size:69px;color:#0a0a0a;left:2873.0px;top:1294.5px;"><span class="g" style="width:38.37px;margin:0 -1.19px;transform:translateX(-4.1px) scaleX(0.961);-webkit-text-stroke:1.2px;clip-path:polygon(-30px -60px,68.4px -60px,68.4px 51.1px,24.2px 51.1px,24.2px 129px,16.6px 129px,16.6px 51.1px,-30px 51.1px)">1</span><span class="g" style="width:38.37px;margin:0 -1.19px;transform:scaleX(0.925);-webkit-text-stroke:1.2px">8</span><span class="g" style="width:38.37px;margin:0 -1.19px;transform:scaleX(0.877);-webkit-text-stroke:1.2px">0</span><span class="g" style="width:38.37px;margin:0 -1.19px;transform:scaleX(0.877);-webkit-text-stroke:1.2px">0</span></div>
<div class="t" style="font-size:69px;color:#0a0a0a;left:3456.0px;top:1294.5px;"><span class="g" style="width:38.37px;margin:0 -1.19px;transform:translateX(-4.1px) scaleX(0.961);-webkit-text-stroke:1.2px;clip-path:polygon(-30px -60px,68.4px -60px,68.4px 51.1px,24.2px 51.1px,24.2px 129px,16.6px 129px,16.6px 51.1px,-30px 51.1px)">1</span><span class="g" style="width:38.37px;margin:0 -1.19px;transform:scaleX(0.881);-webkit-text-stroke:1.2px">5</span><span class="g" style="width:38.37px;margin:0 -1.19px;transform:scaleX(0.877);-webkit-text-stroke:1.2px">0</span><span class="g" style="width:38.37px;margin:0 -1.19px;transform:scaleX(0.877);-webkit-text-stroke:1.2px">0</span></div>
<div class="t" style="font-size:69px;color:#0a0a0a;left:1174.0px;top:1444.7px;"><span class="g" style="width:38.37px;margin:0 -1.19px;transform:translateX(-4.1px) scaleX(0.961);-webkit-text-stroke:1.2px;clip-path:polygon(-30px -60px,68.4px -60px,68.4px 51.1px,24.2px 51.1px,24.2px 129px,16.6px 129px,16.6px 51.1px,-30px 51.1px)">1</span><span class="g" style="width:38.37px;margin:0 -1.19px;transform:scaleX(0.900);-webkit-text-stroke:1.2px">2</span></div>
<div class="t" style="font-size:69px;color:#0a0a0a;left:1752.5px;top:1444.7px;"><span class="g" style="width:38.37px;margin:0 -1.19px;transform:translateX(-4.1px) scaleX(0.961);-webkit-text-stroke:1.2px;clip-path:polygon(-30px -60px,68.4px -60px,68.4px 51.1px,24.2px 51.1px,24.2px 129px,16.6px 129px,16.6px 51.1px,-30px 51.1px)">1</span><span class="g" style="width:38.37px;margin:0 -1.19px;transform:scaleX(0.900);-webkit-text-stroke:1.2px">2</span></div>
<div class="t" style="font-size:69px;color:#0a0a0a;left:2294.0px;top:1444.7px;"><span class="g" style="width:38.37px;margin:0 -1.19px;transform:scaleX(0.900);-webkit-text-stroke:1.2px">2</span><span class="g" style="width:38.37px;margin:0 -1.19px;transform:translateX(-4.1px) scaleX(0.961);-webkit-text-stroke:1.2px;clip-path:polygon(-30px -60px,68.4px -60px,68.4px 51.1px,24.2px 51.1px,24.2px 129px,16.6px 129px,16.6px 51.1px,-30px 51.1px)">1</span><span class="g" style="width:19.17px;margin:0 8.41px;transform:translateX(-6.2px) scaleX(1.035);-webkit-text-stroke:1.2px">.</span><span class="g" style="width:38.37px;margin:0 -1.19px;transform:scaleX(0.900);-webkit-text-stroke:1.2px">2</span></div>
<div class="t" style="font-size:69px;color:#0a0a0a;left:2907.5px;top:1444.7px;"><span class="g" style="width:38.37px;margin:0 -1.19px;transform:scaleX(0.900);-webkit-text-stroke:1.2px">2</span><span class="g" style="width:38.37px;margin:0 -1.19px;transform:scaleX(0.893);-webkit-text-stroke:1.2px">4</span></div>
<div class="t" style="font-size:69px;color:#0a0a0a;left:3491.5px;top:1444.7px;"><span class="g" style="width:38.37px;margin:0 -1.19px;transform:scaleX(0.881);-webkit-text-stroke:1.2px">3</span><span class="g" style="width:38.37px;margin:0 -1.19px;transform:scaleX(0.900);-webkit-text-stroke:1.2px">2</span></div>
<div class="t" style="font-size:69px;color:#0a0a0a;left:1155.5px;top:1588.4px;"><span class="g" style="width:38.37px;margin:0 -1.19px;transform:scaleX(0.881);-webkit-text-stroke:1.2px">3</span><span class="g" style="width:19.17px;margin:0 8.41px;transform:translateX(-6.2px) scaleX(1.035);-webkit-text-stroke:1.2px">.</span><span class="g" style="width:38.37px;margin:0 -1.19px;transform:scaleX(0.881);-webkit-text-stroke:1.2px">5</span></div>
<div class="t" style="font-size:69px;color:#0a0a0a;left:1733.0px;top:1588.4px;"><span class="g" style="width:38.37px;margin:0 -1.19px;transform:scaleX(0.900);-webkit-text-stroke:1.2px">2</span><span class="g" style="width:19.17px;margin:0 8.41px;transform:translateX(-6.2px) scaleX(1.035);-webkit-text-stroke:1.2px">.</span><span class="g" style="width:38.37px;margin:0 -1.19px;transform:scaleX(0.930);-webkit-text-stroke:1.2px">6</span></div>
<div class="t" style="font-size:69px;color:#0a0a0a;left:2295.0px;top:1588.4px;"><span class="g" style="width:38.37px;margin:0 -1.19px;transform:translateX(-4.1px) scaleX(0.961);-webkit-text-stroke:1.2px;clip-path:polygon(-30px -60px,68.4px -60px,68.4px 51.1px,24.2px 51.1px,24.2px 129px,16.6px 129px,16.6px 51.1px,-30px 51.1px)">1</span><span class="g" style="width:19.17px;margin:0 8.41px;transform:translateX(-6.2px) scaleX(1.035);-webkit-text-stroke:1.2px">.</span><span class="g" style="width:38.37px;margin:0 -1.19px;transform:scaleX(0.930);-webkit-text-stroke:1.2px">6</span><span class="g" style="width:38.37px;margin:0 -1.19px;transform:scaleX(0.900);-webkit-text-stroke:1.2px">2</span></div>
<div class="t" style="font-size:69px;color:#0a0a0a;left:2872.5px;top:1588.4px;"><span class="g" style="width:38.37px;margin:0 -1.19px;transform:translateX(-4.1px) scaleX(0.961);-webkit-text-stroke:1.2px;clip-path:polygon(-30px -60px,68.4px -60px,68.4px 51.1px,24.2px 51.1px,24.2px 129px,16.6px 129px,16.6px 51.1px,-30px 51.1px)">1</span><span class="g" style="width:19.17px;margin:0 8.41px;transform:translateX(-6.2px) scaleX(1.035);-webkit-text-stroke:1.2px">.</span><span class="g" style="width:38.37px;margin:0 -1.19px;transform:scaleX(0.881);-webkit-text-stroke:1.2px">5</span><span class="g" style="width:38.37px;margin:0 -1.19px;transform:scaleX(0.925);-webkit-text-stroke:1.2px">8</span></div>
<div class="t" style="font-size:69px;color:#0a0a0a;left:3454.5px;top:1588.4px;"><span class="g" style="width:38.37px;margin:0 -1.19px;transform:scaleX(0.900);-webkit-text-stroke:1.2px">2</span><span class="g" style="width:19.17px;margin:0 8.41px;transform:translateX(-6.2px) scaleX(1.035);-webkit-text-stroke:1.2px">.</span><span class="g" style="width:38.37px;margin:0 -1.19px;transform:translateX(-4.1px) scaleX(0.961);-webkit-text-stroke:1.2px;clip-path:polygon(-30px -60px,68.4px -60px,68.4px 51.1px,24.2px 51.1px,24.2px 129px,16.6px 129px,16.6px 51.1px,-30px 51.1px)">1</span><span class="g" style="width:38.37px;margin:0 -1.19px;transform:scaleX(0.925);-webkit-text-stroke:1.2px">8</span></div>
<div class="t" style="font-size:69px;color:#0a0a0a;left:1050.0px;top:1731.5px;transform:scaleX(1.0222);"><span class="g" style="width:38.37px;margin:0 -1.19px;transform:scaleX(0.893);-webkit-text-stroke:1.2px">4</span><span class="g" style="width:38.37px;margin:0 -1.19px;transform:scaleX(0.900);-webkit-text-stroke:1.2px">2</span><span class="g" style="width:19.17px;margin:0 8.41px;transform:translateX(-6.2px) scaleX(1.035);-webkit-text-stroke:1.2px">.</span><span class="g" style="width:38.37px;margin:0 -1.19px;transform:scaleX(0.881);-webkit-text-stroke:1.2px">5</span><span class="x">×</span><span class="g" style="width:38.37px;margin:0 -1.19px;transform:translateX(-4.1px) scaleX(0.961);-webkit-text-stroke:1.2px;clip-path:polygon(-30px -60px,68.4px -60px,68.4px 51.1px,24.2px 51.1px,24.2px 129px,16.6px 129px,16.6px 51.1px,-30px 51.1px)">1</span><span class="g" style="width:38.37px;margin:0 -1.19px;transform:scaleX(0.877);-webkit-text-stroke:1.2px">0</span><span class="s"><span class="g" style="width:11.32px;margin:0 2.34px;transform:translateY(-3.4px) scaleX(1.766);-webkit-text-stroke:0.7px">-</span><span class="g" style="width:18.91px;margin:0 -1.45px;transform:scaleX(0.893);-webkit-text-stroke:0.7px">4</span></span></div>
<div class="t" style="font-size:69px;color:#0a0a0a;left:1614.9px;top:1731.5px;transform:scaleX(1.0304);"><span class="g" style="width:38.37px;margin:0 -1.19px;transform:scaleX(0.881);-webkit-text-stroke:1.2px">3</span><span class="g" style="width:38.37px;margin:0 -1.19px;transform:scaleX(0.881);-webkit-text-stroke:1.2px">5</span><span class="g" style="width:19.17px;margin:0 8.41px;transform:translateX(-6.2px) scaleX(1.035);-webkit-text-stroke:1.2px">.</span><span class="g" style="width:38.37px;margin:0 -1.19px;transform:scaleX(0.893);-webkit-text-stroke:1.2px">4</span><span class="x">×</span><span class="g" style="width:38.37px;margin:0 -1.19px;transform:translateX(-4.1px) scaleX(0.961);-webkit-text-stroke:1.2px;clip-path:polygon(-30px -60px,68.4px -60px,68.4px 51.1px,24.2px 51.1px,24.2px 129px,16.6px 129px,16.6px 51.1px,-30px 51.1px)">1</span><span class="g" style="width:38.37px;margin:0 -1.19px;transform:scaleX(0.877);-webkit-text-stroke:1.2px">0</span><span class="s"><span class="g" style="width:11.32px;margin:0 2.34px;transform:translateY(-3.4px) scaleX(1.766);-webkit-text-stroke:0.7px">-</span><span class="g" style="width:18.91px;margin:0 -1.45px;transform:scaleX(0.893);-webkit-text-stroke:0.7px">4</span></span></div>
<div class="t" style="font-size:69px;color:#0a0a0a;left:2208.8px;top:1731.5px;transform:scaleX(1.0577);"><span class="g" style="width:38.37px;margin:0 -1.19px;transform:scaleX(0.881);-webkit-text-stroke:1.2px">3</span><span class="g" style="width:19.17px;margin:0 8.41px;transform:translateX(-6.2px) scaleX(1.035);-webkit-text-stroke:1.2px">.</span><span class="g" style="width:38.37px;margin:0 -1.19px;transform:scaleX(0.893);-webkit-text-stroke:1.2px">4</span><span class="x">×</span><span class="g" style="width:38.37px;margin:0 -1.19px;transform:translateX(-4.1px) scaleX(0.961);-webkit-text-stroke:1.2px;clip-path:polygon(-30px -60px,68.4px -60px,68.4px 51.1px,24.2px 51.1px,24.2px 129px,16.6px 129px,16.6px 51.1px,-30px 51.1px)">1</span><span class="g" style="width:38.37px;margin:0 -1.19px;transform:scaleX(0.877);-webkit-text-stroke:1.2px">0</span><span class="s"><span class="g" style="width:11.32px;margin:0 2.34px;transform:translateY(-3.4px) scaleX(1.766);-webkit-text-stroke:0.7px">-</span><span class="g" style="width:18.91px;margin:0 -1.45px;transform:scaleX(0.893);-webkit-text-stroke:0.7px">4</span></span></div>
<div class="t" style="font-size:69px;color:#0a0a0a;left:2789.8px;top:1731.5px;transform:scaleX(1.0604);"><span class="g" style="width:38.37px;margin:0 -1.19px;transform:scaleX(0.881);-webkit-text-stroke:1.2px">3</span><span class="g" style="width:19.17px;margin:0 8.41px;transform:translateX(-6.2px) scaleX(1.035);-webkit-text-stroke:1.2px">.</span><span class="g" style="width:38.37px;margin:0 -1.19px;transform:scaleX(0.925);-webkit-text-stroke:1.2px">8</span><span class="x">×</span><span class="g" style="width:38.37px;margin:0 -1.19px;transform:translateX(-4.1px) scaleX(0.961);-webkit-text-stroke:1.2px;clip-path:polygon(-30px -60px,68.4px -60px,68.4px 51.1px,24.2px 51.1px,24.2px 129px,16.6px 129px,16.6px 51.1px,-30px 51.1px)">1</span><span class="g" style="width:38.37px;margin:0 -1.19px;transform:scaleX(0.877);-webkit-text-stroke:1.2px">0</span><span class="s"><span class="g" style="width:11.32px;margin:0 2.34px;transform:translateY(-3.4px) scaleX(1.766);-webkit-text-stroke:0.7px">-</span><span class="g" style="width:18.91px;margin:0 -1.45px;transform:scaleX(0.893);-webkit-text-stroke:0.7px">4</span></span></div>
<div class="t" style="font-size:69px;color:#0a0a0a;left:3369.8px;top:1731.5px;transform:scaleX(1.0438);"><span class="g" style="width:38.37px;margin:0 -1.19px;transform:scaleX(0.925);-webkit-text-stroke:1.2px">8</span><span class="g" style="width:19.17px;margin:0 8.41px;transform:translateX(-6.2px) scaleX(1.035);-webkit-text-stroke:1.2px">.</span><span class="g" style="width:38.37px;margin:0 -1.19px;transform:scaleX(0.893);-webkit-text-stroke:1.2px">4</span><span class="x">×</span><span class="g" style="width:38.37px;margin:0 -1.19px;transform:translateX(-4.1px) scaleX(0.961);-webkit-text-stroke:1.2px;clip-path:polygon(-30px -60px,68.4px -60px,68.4px 51.1px,24.2px 51.1px,24.2px 129px,16.6px 129px,16.6px 51.1px,-30px 51.1px)">1</span><span class="g" style="width:38.37px;margin:0 -1.19px;transform:scaleX(0.877);-webkit-text-stroke:1.2px">0</span><span class="s"><span class="g" style="width:11.32px;margin:0 2.34px;transform:translateY(-3.4px) scaleX(1.766);-webkit-text-stroke:0.7px">-</span><span class="g" style="width:18.91px;margin:0 -1.45px;transform:scaleX(0.893);-webkit-text-stroke:0.7px">4</span></span></div>
<div class="t" style="font-size:69px;color:#0a0a0a;left:2344.4px;top:1882.5px;"><span class="g" style="width:38.37px;margin:0 -1.19px;transform:scaleX(0.925);-webkit-text-stroke:1.2px">8</span></div>
<div class="t" style="font-size:66px;color:#0a0a0a;left:1960.3px;top:2029.4px;transform:scaleX(1.0241);"><span class="cj">增量式</span></div>
<div class="t" style="font-size:69px;color:#0a0a0a;left:2175.2px;top:2027.4px;"><span class="g" style="width:38.37px;margin:0 -1.19px;transform:scaleX(0.900);-webkit-text-stroke:1.2px">2</span><span class="g" style="width:38.37px;margin:0 -1.19px;transform:scaleX(0.881);-webkit-text-stroke:1.2px">5</span><span class="g" style="width:38.37px;margin:0 -1.19px;transform:scaleX(0.877);-webkit-text-stroke:1.2px">0</span><span class="g" style="width:38.37px;margin:0 -1.19px;transform:scaleX(0.877);-webkit-text-stroke:1.2px">0</span><span class="g" style="width:46.02px;margin:0 -5.01px;transform:scaleX(0.651);-webkit-text-stroke:1.2px">P</span><span class="g" style="width:19.17px;margin:0 8.41px;transform:scaleX(1.528);-webkit-text-stroke:0.36px">/</span><span class="g" style="width:22.98px;margin:0 6.51px;transform:scaleX(1.214);-webkit-text-stroke:1.2px">r</span></div>
<div class="t" style="font-size:66px;color:#0a0a0a;left:2434.9px;top:2029.4px;transform:scaleX(1.0306);"><span class="cj">光电编码器</span></div>
<div class="t" style="font-size:69px;color:#0a0a0a;left:2149.0px;top:2170.9px;"><span class="g" style="width:42.15px;margin:0 -3.07px;transform:scaleX(0.662);-webkit-text-stroke:1.2px">F</span></div>
<div class="t" style="font-size:66px;color:#0a0a0a;left:2205.3px;top:2172.9px;transform:scaleX(1.0063);"><span class="cj">级</span></div>
<div class="t" style="font-size:66px;color:#0a0a0a;left:2269.9px;top:2172.9px;"><span class="cj">（</span></div>
<div class="t" style="font-size:69px;color:#0a0a0a;left:2344.1px;top:2170.9px;transform:scaleX(0.9612);"><span class="g" style="width:38.37px;margin:0 -1.19px;transform:translateX(-4.1px) scaleX(0.961);-webkit-text-stroke:1.2px;clip-path:polygon(-30px -60px,68.4px -60px,68.4px 51.1px,24.2px 51.1px,24.2px 129px,16.6px 129px,16.6px 51.1px,-30px 51.1px)">1</span><span class="g" style="width:38.37px;margin:0 -1.19px;transform:scaleX(0.881);-webkit-text-stroke:1.2px">5</span><span class="g" style="width:38.37px;margin:0 -1.19px;transform:scaleX(0.881);-webkit-text-stroke:1.2px">5</span></div>
<div class="t" style="font-size:66px;color:#0a0a0a;left:2444.6px;top:2172.9px;transform:scaleX(0.9419);"><span class="cj">℃</span></div>
<div class="t" style="font-size:66px;color:#0a0a0a;left:2509.5px;top:2172.9px;"><span class="cj">）</span></div>
<div class="t" style="font-size:69px;color:#0a0a0a;left:2296.7px;top:2321.4px;transform:scaleX(0.9734);"><span class="g" style="width:19.17px;margin:0 8.41px;transform:scaleX(1.104);-webkit-text-stroke:1.2px">I</span><span class="g" style="width:46.02px;margin:0 -5.01px;transform:scaleX(0.651);-webkit-text-stroke:1.2px">P</span><span class="g" style="width:38.37px;margin:0 -1.19px;transform:scaleX(0.930);-webkit-text-stroke:1.2px">6</span><span class="g" style="width:38.37px;margin:0 -1.19px;transform:scaleX(0.881);-webkit-text-stroke:1.2px">5</span></div>
<div class="t" style="font-size:66px;color:#0a0a0a;left:1580.0px;top:2466.8px;transform:scaleX(1.0203);"><span class="cj">温度</span></div>
<div class="t" style="font-size:66px;color:#0a0a0a;left:1716.7px;top:2466.8px;"><span class="cj">：</span></div>
<div class="t" style="font-size:69px;color:#0a0a0a;left:1776.5px;top:2464.8px;transform:scaleX(1.0246);"><span class="g" style="width:38.37px;margin:0 -1.19px;transform:scaleX(0.877);-webkit-text-stroke:1.2px">0</span><span class="g" style="width:22.98px;margin:0 6.51px;transform:translateY(-6.9px) scaleX(1.766);-webkit-text-stroke:1.2px">-</span><span class="g" style="width:38.37px;margin:0 -1.19px;transform:scaleX(0.893);-webkit-text-stroke:1.2px">4</span><span class="g" style="width:38.37px;margin:0 -1.19px;transform:scaleX(0.877);-webkit-text-stroke:1.2px">0</span></div>
<div class="t" style="font-size:66px;color:#0a0a0a;left:1919.6px;top:2466.8px;transform:scaleX(0.9274);"><span class="cj">℃</span></div>
<div class="t" style="font-size:66px;color:#0a0a0a;left:1975.3px;top:2466.8px;"><span class="cj">（</span></div>
<div class="t" style="font-size:66px;color:#0a0a0a;left:2048.9px;top:2466.8px;transform:scaleX(1.0415);"><span class="cj">无冻结</span></div>
<div class="t" style="font-size:66px;color:#0a0a0a;left:2258.0px;top:2466.8px;"><span class="cj">）</span></div>
<div class="t" style="font-size:66px;color:#0a0a0a;left:2326.5px;top:2466.8px;"><span class="cj">、</span></div>
<div class="t" style="font-size:66px;color:#0a0a0a;left:2390.5px;top:2466.8px;transform:scaleX(1.0344);"><span class="cj">湿度</span></div>
<div class="t" style="font-size:66px;color:#0a0a0a;left:2528.2px;top:2466.8px;"><span class="cj">：</span></div>
<div class="t" style="font-size:69px;color:#0a0a0a;left:2582.8px;top:2464.8px;transform:scaleX(0.9886);"><span class="g" style="width:38.37px;margin:0 -1.19px;transform:scaleX(0.900);-webkit-text-stroke:1.2px">2</span><span class="g" style="width:38.37px;margin:0 -1.19px;transform:scaleX(0.877);-webkit-text-stroke:1.2px">0</span><span class="g" style="width:61.35px;margin:0 -12.68px;transform:scaleX(0.545);-webkit-text-stroke:1.2px">%</span><span class="g" style="width:22.98px;margin:0 6.51px;transform:translateY(-6.9px) scaleX(1.766);-webkit-text-stroke:1.2px">-</span><span class="g" style="width:38.37px;margin:0 -1.19px;transform:scaleX(0.925);-webkit-text-stroke:1.2px">8</span><span class="g" style="width:38.37px;margin:0 -1.19px;transform:scaleX(0.877);-webkit-text-stroke:1.2px">0</span><span class="g" style="width:61.35px;margin:0 -12.68px;transform:scaleX(0.545);-webkit-text-stroke:1.2px">%</span></div>
<div class="t" style="font-size:66px;color:#0a0a0a;left:2813.4px;top:2466.8px;"><span class="cj">（</span></div>
<div class="t" style="font-size:66px;color:#0a0a0a;left:2885.5px;top:2466.8px;transform:scaleX(1.0221);"><span class="cj">不结露</span></div>
<div class="t" style="font-size:66px;color:#0a0a0a;left:3096.2px;top:2466.8px;"><span class="cj">）</span></div>
<div class="t" style="font-size:70px;color:#fff;left:351.9px;top:233.9px;transform:scaleX(0.9888);"><span class="cj">电机型号</span></div>
<div class="t" style="font-size:69px;color:#fff;left:1057.4px;top:191.3px;"><span class="g" style="width:38.37px;margin:0 0 0 0.00px;transform:translateX(-4.1px) scaleX(0.961);-webkit-text-stroke:0.7px;clip-path:polygon(-30px -60px,68.4px -60px,68.4px 51.3px,23.9px 51.3px,23.9px 129px,16.9px 129px,16.9px 51.3px,-30px 51.3px)">1</span><span class="g" style="width:38.37px;margin:0 0 0 -7.80px;transform:scaleX(0.925);-webkit-text-stroke:0.7px">8</span><span class="g" style="width:38.37px;margin:0 0 0 -0.19px;transform:scaleX(0.877);-webkit-text-stroke:0.7px">0</span><span class="g" style="width:42.15px;margin:0 0 0 -3.12px;transform:scaleX(0.790);-webkit-text-stroke:0.7px">Z</span><span class="g" style="width:42.15px;margin:0 0 0 -11.47px;transform:scaleX(0.662);-webkit-text-stroke:0.7px">F</span><span class="g" style="width:57.48px;margin:0 0 0 -16.98px;font-weight:700;transform:scaleX(0.651);-webkit-text-stroke:0.7px">M</span><span class="g" style="width:46.02px;margin:0 0 0 -17.11px;transform:scaleX(0.781);-webkit-text-stroke:0.7px">B</span><span class="g" style="width:38.37px;margin:0 0 0 -4.76px;transform:translateX(-4.1px) scaleX(0.961);-webkit-text-stroke:0.7px;clip-path:polygon(-30px -60px,68.4px -60px,68.4px 51.3px,23.9px 51.3px,23.9px 129px,16.9px 129px,16.9px 51.3px,-30px 51.3px)">1</span><span class="g" style="width:22.98px;margin:0 0 0 -3.82px;transform:translateY(-6.9px) scaleX(1.766);-webkit-text-stroke:0.7px">-</span></div>
<div class="t" style="font-size:69px;color:#fff;left:1068.9px;top:279.6px;"><span class="g" style="width:38.37px;margin:0 0 0 0.00px;transform:scaleX(0.877);-webkit-text-stroke:0.7px">0</span><span class="g" style="width:38.37px;margin:0 0 0 -1.27px;transform:scaleX(0.877);-webkit-text-stroke:0.7px">0</span><span class="g" style="width:38.37px;margin:0 0 0 -0.47px;transform:scaleX(0.877);-webkit-text-stroke:0.7px">0</span><span class="g" style="width:38.37px;margin:0 0 0 -7.58px;transform:scaleX(0.900);-webkit-text-stroke:0.7px">2</span><span class="g" style="width:46.02px;margin:0 0 0 -4.30px;transform:scaleX(0.781);-webkit-text-stroke:0.7px">B</span><span class="g" style="width:46.02px;margin:0 0 0 -13.92px;transform:scaleX(0.781);-webkit-text-stroke:0.7px">B</span><span class="g" style="width:49.83px;margin:0 0 0 -11.06px;font-weight:700;transform:scaleX(0.678);-webkit-text-stroke:0.7px">N</span><span class="g" style="width:57.48px;margin:0 0 0 -22.06px;font-weight:700;transform:scaleX(0.651);-webkit-text-stroke:0.7px">M</span></div>
<div class="t" style="font-size:69px;color:#fff;left:1635.9px;top:191.3px;"><span class="g" style="width:38.37px;margin:0 0 0 0.00px;transform:translateX(-4.1px) scaleX(0.961);-webkit-text-stroke:0.7px;clip-path:polygon(-30px -60px,68.4px -60px,68.4px 51.3px,23.9px 51.3px,23.9px 129px,16.9px 129px,16.9px 51.3px,-30px 51.3px)">1</span><span class="g" style="width:38.37px;margin:0 0 0 -7.80px;transform:scaleX(0.925);-webkit-text-stroke:0.7px">8</span><span class="g" style="width:38.37px;margin:0 0 0 -0.19px;transform:scaleX(0.877);-webkit-text-stroke:0.7px">0</span><span class="g" style="width:42.15px;margin:0 0 0 -3.12px;transform:scaleX(0.790);-webkit-text-stroke:0.7px">Z</span><span class="g" style="width:42.15px;margin:0 0 0 -11.47px;transform:scaleX(0.662);-webkit-text-stroke:0.7px">F</span><span class="g" style="width:57.48px;margin:0 0 0 -16.98px;font-weight:700;transform:scaleX(0.651);-webkit-text-stroke:0.7px">M</span><span class="g" style="width:46.02px;margin:0 0 0 -17.11px;transform:scaleX(0.781);-webkit-text-stroke:0.7px">B</span><span class="g" style="width:38.37px;margin:0 0 0 -4.76px;transform:translateX(-4.1px) scaleX(0.961);-webkit-text-stroke:0.7px;clip-path:polygon(-30px -60px,68.4px -60px,68.4px 51.3px,23.9px 51.3px,23.9px 129px,16.9px 129px,16.9px 51.3px,-30px 51.3px)">1</span><span class="g" style="width:22.98px;margin:0 0 0 -3.82px;transform:translateY(-6.9px) scaleX(1.766);-webkit-text-stroke:0.7px">-</span></div>
<div class="t" style="font-size:69px;color:#fff;left:1645.0px;top:279.6px;"><span class="g" style="width:38.37px;margin:0 0 0 0.00px;transform:scaleX(0.877);-webkit-text-stroke:0.7px">0</span><span class="g" style="width:38.37px;margin:0 0 0 -0.87px;transform:scaleX(0.877);-webkit-text-stroke:0.7px">0</span><span class="g" style="width:38.37px;margin:0 0 0 -0.87px;transform:scaleX(0.877);-webkit-text-stroke:0.7px">0</span><span class="g" style="width:38.37px;margin:0 0 0 -0.88px;transform:scaleX(0.900);-webkit-text-stroke:0.7px">2</span><span class="g" style="width:49.83px;margin:0 0 0 -7.67px;transform:scaleX(0.679);-webkit-text-stroke:0.7px">C</span><span class="g" style="width:46.02px;margin:0 0 0 -15.56px;transform:scaleX(0.781);-webkit-text-stroke:0.7px">B</span><span class="g" style="width:49.83px;margin:0 0 0 -14.46px;font-weight:700;transform:scaleX(0.678);-webkit-text-stroke:0.7px">N</span><span class="g" style="width:57.48px;margin:0 0 0 -21.06px;font-weight:700;transform:scaleX(0.651);-webkit-text-stroke:0.7px">M</span></div>
<div class="t" style="font-size:69px;color:#fff;left:2214.4px;top:191.3px;"><span class="g" style="width:38.37px;margin:0 0 0 0.00px;transform:translateX(-4.1px) scaleX(0.961);-webkit-text-stroke:0.7px;clip-path:polygon(-30px -60px,68.4px -60px,68.4px 51.3px,23.9px 51.3px,23.9px 129px,16.9px 129px,16.9px 51.3px,-30px 51.3px)">1</span><span class="g" style="width:38.37px;margin:0 0 0 -7.80px;transform:scaleX(0.925);-webkit-text-stroke:0.7px">8</span><span class="g" style="width:38.37px;margin:0 0 0 -0.19px;transform:scaleX(0.877);-webkit-text-stroke:0.7px">0</span><span class="g" style="width:42.15px;margin:0 0 0 -3.12px;transform:scaleX(0.790);-webkit-text-stroke:0.7px">Z</span><span class="g" style="width:42.15px;margin:0 0 0 -11.47px;transform:scaleX(0.662);-webkit-text-stroke:0.7px">F</span><span class="g" style="width:57.48px;margin:0 0 0 -16.98px;font-weight:700;transform:scaleX(0.651);-webkit-text-stroke:0.7px">M</span><span class="g" style="width:46.02px;margin:0 0 0 -17.11px;transform:scaleX(0.781);-webkit-text-stroke:0.7px">B</span><span class="g" style="width:38.37px;margin:0 0 0 -4.76px;transform:translateX(-4.1px) scaleX(0.961);-webkit-text-stroke:0.7px;clip-path:polygon(-30px -60px,68.4px -60px,68.4px 51.3px,23.9px 51.3px,23.9px 129px,16.9px 129px,16.9px 51.3px,-30px 51.3px)">1</span><span class="g" style="width:22.98px;margin:0 0 0 -3.82px;transform:translateY(-6.9px) scaleX(1.766);-webkit-text-stroke:0.7px">-</span></div>
<div class="t" style="font-size:69px;color:#fff;left:2224.9px;top:279.6px;"><span class="g" style="width:38.37px;margin:0 0 0 0.00px;transform:scaleX(0.877);-webkit-text-stroke:0.7px">0</span><span class="g" style="width:38.37px;margin:0 0 0 -0.68px;transform:scaleX(0.900);-webkit-text-stroke:0.7px">2</span><span class="g" style="width:49.83px;margin:0 0 0 -5.83px;transform:scaleX(0.678);-webkit-text-stroke:0.7px">D</span><span class="g" style="width:38.37px;margin:0 0 0 -8.37px;transform:scaleX(0.900);-webkit-text-stroke:0.7px">7</span><span class="g" style="width:49.83px;margin:0 0 0 -11.93px;font-weight:700;transform:scaleX(0.732);-webkit-text-stroke:0.7px">A</span><span class="g" style="width:46.02px;margin:0 0 0 -13.50px;transform:scaleX(0.781);-webkit-text-stroke:0.7px">B</span><span class="g" style="width:49.83px;margin:0 0 0 -15.76px;font-weight:700;transform:scaleX(0.678);-webkit-text-stroke:0.7px">N</span><span class="g" style="width:57.48px;margin:0 0 0 -21.16px;font-weight:700;transform:scaleX(0.651);-webkit-text-stroke:0.7px">M</span></div>
<div class="t" style="font-size:69px;color:#fff;left:2792.4px;top:191.3px;"><span class="g" style="width:38.37px;margin:0 0 0 0.00px;transform:translateX(-4.1px) scaleX(0.961);-webkit-text-stroke:0.7px;clip-path:polygon(-30px -60px,68.4px -60px,68.4px 51.3px,23.9px 51.3px,23.9px 129px,16.9px 129px,16.9px 51.3px,-30px 51.3px)">1</span><span class="g" style="width:38.37px;margin:0 0 0 -7.80px;transform:scaleX(0.925);-webkit-text-stroke:0.7px">8</span><span class="g" style="width:38.37px;margin:0 0 0 -0.19px;transform:scaleX(0.877);-webkit-text-stroke:0.7px">0</span><span class="g" style="width:42.15px;margin:0 0 0 -3.12px;transform:scaleX(0.790);-webkit-text-stroke:0.7px">Z</span><span class="g" style="width:42.15px;margin:0 0 0 -11.47px;transform:scaleX(0.662);-webkit-text-stroke:0.7px">F</span><span class="g" style="width:57.48px;margin:0 0 0 -16.98px;font-weight:700;transform:scaleX(0.651);-webkit-text-stroke:0.7px">M</span><span class="g" style="width:46.02px;margin:0 0 0 -17.11px;transform:scaleX(0.781);-webkit-text-stroke:0.7px">B</span><span class="g" style="width:38.37px;margin:0 0 0 -4.76px;transform:translateX(-4.1px) scaleX(0.961);-webkit-text-stroke:0.7px;clip-path:polygon(-30px -60px,68.4px -60px,68.4px 51.3px,23.9px 51.3px,23.9px 129px,16.9px 129px,16.9px 51.3px,-30px 51.3px)">1</span><span class="g" style="width:22.98px;margin:0 0 0 -3.82px;transform:translateY(-6.9px) scaleX(1.766);-webkit-text-stroke:0.7px">-</span></div>
<div class="t" style="font-size:69px;color:#fff;left:2801.5px;top:279.6px;"><span class="g" style="width:38.37px;margin:0 0 0 0.00px;transform:scaleX(0.877);-webkit-text-stroke:0.7px">0</span><span class="g" style="width:38.37px;margin:0 0 0 -0.87px;transform:scaleX(0.877);-webkit-text-stroke:0.7px">0</span><span class="g" style="width:38.37px;margin:0 0 0 -0.87px;transform:scaleX(0.877);-webkit-text-stroke:0.7px">0</span><span class="g" style="width:38.37px;margin:0 0 0 -0.57px;transform:scaleX(0.881);-webkit-text-stroke:0.7px">3</span><span class="g" style="width:46.02px;margin:0 0 0 -6.51px;transform:scaleX(0.781);-webkit-text-stroke:0.7px">B</span><span class="g" style="width:46.02px;margin:0 0 0 -13.22px;transform:scaleX(0.781);-webkit-text-stroke:0.7px">B</span><span class="g" style="width:49.83px;margin:0 0 0 -14.46px;font-weight:700;transform:scaleX(0.678);-webkit-text-stroke:0.7px">N</span><span class="g" style="width:57.48px;margin:0 0 0 -21.06px;font-weight:700;transform:scaleX(0.651);-webkit-text-stroke:0.7px">M</span></div>
<div class="t" style="font-size:69px;color:#fff;left:3375.4px;top:191.3px;"><span class="g" style="width:38.37px;margin:0 0 0 0.00px;transform:translateX(-4.1px) scaleX(0.961);-webkit-text-stroke:0.7px;clip-path:polygon(-30px -60px,68.4px -60px,68.4px 51.3px,23.9px 51.3px,23.9px 129px,16.9px 129px,16.9px 51.3px,-30px 51.3px)">1</span><span class="g" style="width:38.37px;margin:0 0 0 -7.80px;transform:scaleX(0.925);-webkit-text-stroke:0.7px">8</span><span class="g" style="width:38.37px;margin:0 0 0 -0.19px;transform:scaleX(0.877);-webkit-text-stroke:0.7px">0</span><span class="g" style="width:42.15px;margin:0 0 0 -3.12px;transform:scaleX(0.790);-webkit-text-stroke:0.7px">Z</span><span class="g" style="width:42.15px;margin:0 0 0 -11.47px;transform:scaleX(0.662);-webkit-text-stroke:0.7px">F</span><span class="g" style="width:57.48px;margin:0 0 0 -16.98px;font-weight:700;transform:scaleX(0.651);-webkit-text-stroke:0.7px">M</span><span class="g" style="width:46.02px;margin:0 0 0 -17.11px;transform:scaleX(0.781);-webkit-text-stroke:0.7px">B</span><span class="g" style="width:38.37px;margin:0 0 0 -4.76px;transform:translateX(-4.1px) scaleX(0.961);-webkit-text-stroke:0.7px;clip-path:polygon(-30px -60px,68.4px -60px,68.4px 51.3px,23.9px 51.3px,23.9px 129px,16.9px 129px,16.9px 51.3px,-30px 51.3px)">1</span><span class="g" style="width:22.98px;margin:0 0 0 -3.82px;transform:translateY(-6.9px) scaleX(1.766);-webkit-text-stroke:0.7px">-</span></div>
<div class="t" style="font-size:69px;color:#fff;left:3385.5px;top:279.6px;"><span class="g" style="width:38.37px;margin:0 0 0 0.00px;transform:scaleX(0.877);-webkit-text-stroke:0.7px">0</span><span class="g" style="width:38.37px;margin:0 0 0 -0.57px;transform:scaleX(0.881);-webkit-text-stroke:0.7px">3</span><span class="g" style="width:49.83px;margin:0 0 0 -8.44px;transform:scaleX(0.678);-webkit-text-stroke:0.7px">D</span><span class="g" style="width:38.37px;margin:0 0 0 -7.07px;transform:scaleX(0.900);-webkit-text-stroke:0.7px">7</span><span class="g" style="width:49.83px;margin:0 0 0 -7.43px;font-weight:700;transform:scaleX(0.732);-webkit-text-stroke:0.7px">A</span><span class="g" style="width:46.02px;margin:0 0 0 -15.80px;transform:scaleX(0.781);-webkit-text-stroke:0.7px">B</span><span class="g" style="width:49.83px;margin:0 0 0 -14.46px;font-weight:700;transform:scaleX(0.678);-webkit-text-stroke:0.7px">N</span><span class="g" style="width:57.48px;margin:0 0 0 -21.06px;font-weight:700;transform:scaleX(0.651);-webkit-text-stroke:0.7px">M</span></div>
<div class="t" style="font-size:86px;color:#575757;letter-spacing:4px;left:133.7px;top:30.0px;"><span class="tt">伺服电机</span></div>
<div class="t" style="font-size:83px;color:#00a0e9;left:493.0px;top:30.0px;transform:scaleX(0.9954);"><span class="g" style="width:46.16px;margin:0 1.72px;transform:translateX(-5.0px) scaleX(0.961);-webkit-text-stroke:1.0px;clip-path:polygon(-30px -60px,76.2px -60px,76.2px 62.0px,28.9px 62.0px,28.9px 143px,20.2px 143px,20.2px 62.0px,-30px 62.0px)">1</span><span class="g" style="width:46.16px;margin:0 1.72px;transform:scaleX(0.925);-webkit-text-stroke:1.0px">8</span><span class="g" style="width:46.16px;margin:0 1.72px;transform:scaleX(0.877);-webkit-text-stroke:1.0px">0</span><span class="g" style="width:50.70px;margin:0 -0.55px;transform:scaleX(0.790);-webkit-text-stroke:1.0px">Z</span><span class="g" style="width:50.70px;margin:0 -0.55px;transform:scaleX(0.662);-webkit-text-stroke:1.0px">F</span><span class="g" style="width:27.64px;margin:0 10.98px;transform:translateY(-7.9px) scale(0.902,0.925);-webkit-text-stroke:1.0px">(</span><span class="g" style="width:46.16px;margin:0 1.72px;transform:scaleX(0.900);-webkit-text-stroke:1.0px">2</span><span class="g" style="width:46.16px;margin:0 1.72px;transform:scaleX(0.877);-webkit-text-stroke:1.0px">0</span><span class="g" style="width:46.16px;margin:0 1.72px;transform:scaleX(0.877);-webkit-text-stroke:1.0px">0</span><span class="g" style="width:46.16px;margin:0 1.72px;transform:scaleX(0.877);-webkit-text-stroke:1.0px">0</span><span class="g" style="width:78.34px;margin:0 -14.37px;font-weight:700;transform:scaleX(0.529);-webkit-text-stroke:1.0px">W</span><span class="g" style="width:27.64px;margin:0 10.98px;transform:translateY(-8.3px) scaleX(1.766);-webkit-text-stroke:1.0px">-</span><span class="g" style="width:46.16px;margin:0 1.72px;transform:scaleX(0.881);-webkit-text-stroke:1.0px">3</span><span class="g" style="width:46.16px;margin:0 1.72px;transform:scaleX(0.900);-webkit-text-stroke:1.0px">7</span><span class="g" style="width:46.16px;margin:0 1.72px;transform:scaleX(0.877);-webkit-text-stroke:1.0px">0</span><span class="g" style="width:46.16px;margin:0 1.72px;transform:scaleX(0.877);-webkit-text-stroke:1.0px">0</span><span class="g" style="width:78.34px;margin:0 -14.37px;font-weight:700;transform:scaleX(0.529);-webkit-text-stroke:1.0px">W</span><span class="g" style="width:23.06px;margin:0 13.27px;transform:scaleX(1.528);-webkit-text-stroke:0.3px">/</span><span class="g" style="width:46.16px;margin:0 1.72px;transform:scaleX(0.881);-webkit-text-stroke:1.0px">3</span><span class="g" style="width:46.16px;margin:0 1.72px;transform:scaleX(0.925);-webkit-text-stroke:1.0px">8</span><span class="g" style="width:46.16px;margin:0 1.72px;transform:scaleX(0.877);-webkit-text-stroke:1.0px">0</span><span class="g" style="width:55.36px;margin:0 -2.88px;font-weight:700;transform:scaleX(0.743);-webkit-text-stroke:1.0px">V</span><span class="g" style="width:27.64px;margin:0 10.98px;transform:translateY(-7.9px) scale(0.902,0.925);-webkit-text-stroke:1.0px">)</span></div>
<div class="t" style="font-size:86px;color:#575757;letter-spacing:4px;left:1631.4px;top:30.5px;transform:scaleX(1.0074);"><span class="tt">规格参数</span></div>
</body></html>
